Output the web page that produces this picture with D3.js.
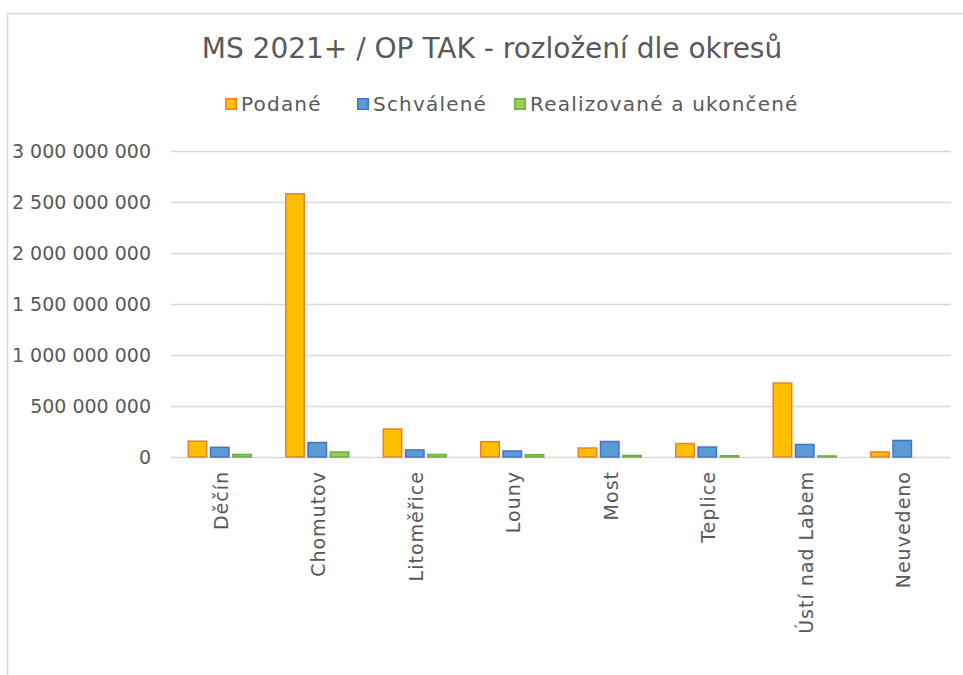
<!DOCTYPE html>
<html>
<head>
<meta charset="utf-8">
<script src="https://cdn.jsdelivr.net/npm/d3@7"></script>
<style>
  html, body { margin: 0; padding: 0; background: #fff; }
  text { font-family: "DejaVu Sans", Lato, sans-serif; fill: #595959; }
</style>
</head>
<body>
<div id="chart"></div>
<script>
const districts = ['Děčín', 'Chomutov', 'Litoměřice', 'Louny', 'Most', 'Teplice', 'Ústí nad Labem', 'Neuvedeno']
const seriesNames = ['Podané', 'Schválené', 'Realizované a ukončené']
const podane = [155e6, 2580e6, 274e6, 150e6, 88e6, 132e6, 725e6, 49e6]
const schvalene = [95e6, 142e6, 69e6, 59e6, 152e6, 98e6, 123e6, 162e6]
const realizovane = [25e6, 49e6, 25e6, 22e6, 15e6, 12e6, 10e6, 0]
const yTicks = [0, 500e6, 1000e6, 1500e6, 2000e6, 2500e6, 3000e6]

const fills = ['#FFC000', '#5B9BD5', '#92D050']
const strokes = ['#ED7D31', '#4472C4', '#70AD47']
const values = [podane, schvalene, realizovane]

const width = 963, height = 675
const plotLeft = 171, plotRight = 951, plotTop = 151, plotBottom = 457

const svg = d3.select('#chart').append('svg').attr('width', width).attr('height', height)

// chart frame
svg.append('path').attr('d', `M7.5,${height} V13.5 H${width}`).attr('fill', 'none').attr('stroke', '#d9d9d9').attr('stroke-width', 1.5)

svg.append('text').attr('x', 492).attr('y', 58).attr('text-anchor', 'middle').
    style('font-size', '28px').text('MS 2021+ / OP TAK - rozložení dle okresů')

const x0 = d3.scaleBand().domain(districts).range([plotLeft, plotRight]).paddingInner(0.354).paddingOuter(0.177)
const x1 = d3.scaleBand().domain(seriesNames).range([0, x0.bandwidth()]).paddingInner(0.17)
const y = d3.scaleLinear().domain([0, 3e9]).range([plotBottom, plotTop])

const fmt = (v) => d3.format(',')(v).replace(/,/g, ' ')

const yAxis = svg.append('g').attr('transform', `translate(${plotLeft},0)`).
    call(d3.axisLeft(y).tickValues(yTicks).tickSize(-(plotRight - plotLeft)).tickPadding(20).tickFormat(fmt))
yAxis.select('.domain').remove()
yAxis.selectAll('line').attr('stroke', '#d9d9d9').attr('stroke-width', 1.5)
yAxis.selectAll('text').style('font-size', '19px').style('fill', '#595959').attr('font-family', null)

const groups = svg.selectAll('g.grp').data(districts).enter().append('g').
    attr('class', 'grp').attr('transform', (d) => `translate(${x0(d)},0)`)

groups.selectAll('rect').data((d, i) => seriesNames.map((s, j) => ({ s, j, v: values[j][i] }))).
    enter().filter((d) => d.v > 0).
    append('rect').
    attr('x', (d) => x1(d.s)).
    attr('y', (d) => y(d.v)).
    attr('width', x1.bandwidth()).
    attr('height', (d) => plotBottom - y(d.v)).
    attr('fill', (d) => fills[d.j]).
    attr('stroke', (d) => strokes[d.j]).
    attr('stroke-width', 1.5)

// category labels
svg.selectAll('text.cat').data(districts).enter().append('text').
    attr('class', 'cat').
    attr('transform', (d) => `translate(${x0(d) + x0.bandwidth() / 2 + 8},471) rotate(-90)`).
    attr('text-anchor', 'end').
    style('font-size', '19px').
    style('letter-spacing', '1px').
    text((d) => d)

// legend
const legendX = [225, 357, 514]
const legend = svg.selectAll('g.leg').data(seriesNames).enter().append('g').
    attr('class', 'leg').attr('transform', (d, i) => `translate(${legendX[i]},98)`)
legend.append('rect').attr('x', 0.75).attr('y', 0.75).attr('width', 10.5).attr('height', 10.5).
    attr('fill', (d, i) => fills[i]).attr('stroke', (d, i) => strokes[i]).attr('stroke-width', 1.5)
legend.append('text').attr('x', 16).attr('y', 13).style('font-size', '20px').style('letter-spacing', '1.2px').text((d) => d)
</script>
</body>
</html>
